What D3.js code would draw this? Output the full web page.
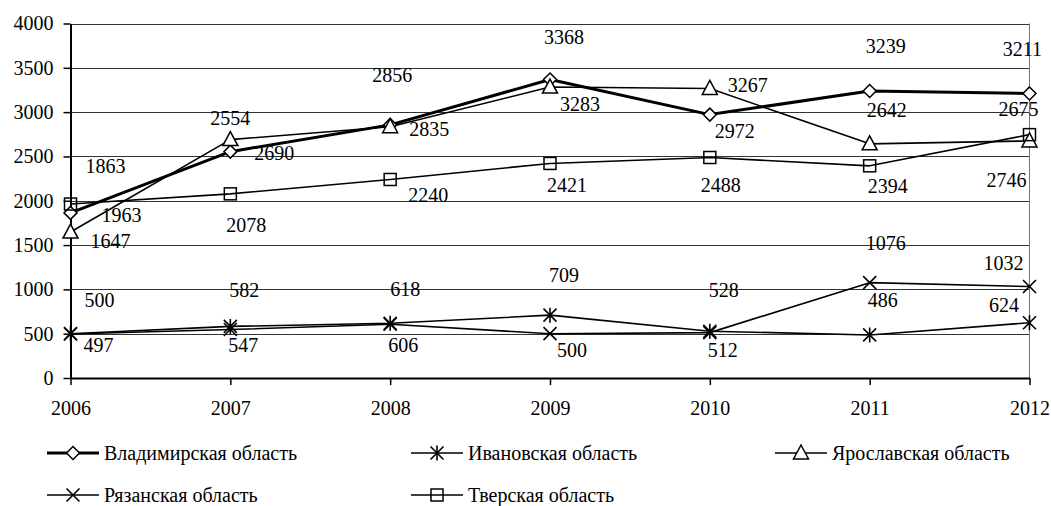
<!DOCTYPE html>
<html>
<head>
<meta charset="utf-8">
<script src="https://cdn.jsdelivr.net/npm/d3@7"></script>
<style>
  html, body { margin: 0; padding: 0; background: #fff; }
  svg { display: block; }
  text { font-family: "Liberation Serif", "Times New Roman", serif; fill: #000; }
</style>
</head>
<body>
<svg id="chart" width="1051" height="506"></svg>
<script>
// Years on the horizontal axis
const years = [2006, 2007, 2008, 2009, 2010, 2011, 2012];
// Values per region
const vladimir  = [1863, 2554, 2856, 3368, 2972, 3239, 3211];
const ivanovo   = [500, 582, 618, 709, 528, 486, 624];
const yaroslavl = [1647, 2690, 2835, 3283, 3267, 2642, 2675];
const ryazan    = [497, 547, 606, 500, 512, 1076, 1032];
const tver      = [1963, 2078, 2240, 2421, 2488, 2394, 2746];
// Region names
const names = ["Владимирская область", "Ивановская область", "Ярославская область",
               "Рязанская область", "Тверская область"];
// Value axis ticks
const yTicks = [0, 500, 1000, 1500, 2000, 2500, 3000, 3500, 4000];

// Series drawing styles and label placement (pixel offsets of each value label)
const styles = [
  { values: vladimir,  marker: "diamond",  width: 3,
    labelOffset: [[35,-47],[0,-34],[2,-50],[14,-43],[25,16],[16,-44.5],[-7,-44.5]] },
  { values: ivanovo,   marker: "asterisk", width: 1.6,
    labelOffset: [[29,-34],[14,-36],[15,-34],[14,-40.5],[14,-41.5],[13,-35],[-25.5,-17.5]] },
  { values: yaroslavl, marker: "triangle", width: 1.6,
    labelOffset: [[40,9],[44,13],[39,2],[30,17],[38,-3],[17,-34],[-11,-32]] },
  { values: ryazan,    marker: "cross",    width: 1.6,
    labelOffset: [[28,11],[13,15.5],[13,21],[22,16],[13,17],[16,-40],[-26,-24]] },
  { values: tver,      marker: "square",   width: 1.6,
    labelOffset: [[51,11],[16,31],[38,16],[17,22],[11,27],[18,20.5],[-23,45]] }
];

const svg = d3.select("#chart");
const x = d3.scaleLinear().domain([years[0], years[years.length - 1]]).range([70.5, 1029.5]);
const y = d3.scaleLinear().domain([0, 4000]).range([378, 23.5]);

// Gridlines
svg.append("g").selectAll("line").data(yTicks.filter(t => t > 0)).join("line")
  .attr("x1", x.range()[0]).attr("x2", x.range()[1])
  .attr("y1", d => Math.round(y(d)) + 0.5).attr("y2", d => Math.round(y(d)) + 0.5)
  .attr("stroke", "#333").attr("stroke-width", 1);

// Right frame edge
svg.append("line")
  .attr("x1", x.range()[1]).attr("x2", x.range()[1])
  .attr("y1", y(4000)).attr("y2", y(0))
  .attr("stroke", "#777").attr("stroke-width", 1);

// Value axis
const yAxis = d3.axisLeft(y).tickValues(yTicks).tickFormat(d3.format("d"))
  .tickSize(7).tickPadding(10).tickSizeOuter(0);
const gy = svg.append("g").attr("transform", `translate(${x.range()[0]},0)`).call(yAxis);
gy.attr("font-family", null).attr("font-size", null);
gy.select(".domain").attr("stroke", "#000").attr("stroke-width", 2);
gy.selectAll(".tick line").attr("stroke", "#000").attr("stroke-width", 1.5);
gy.selectAll(".tick text").attr("font-size", 20).attr("fill", "#000");

// Year axis
const xAxis = d3.axisBottom(x).tickValues(years).tickFormat(d3.format("d"))
  .tickSize(7).tickPadding(16).tickSizeOuter(0);
const gx = svg.append("g").attr("transform", `translate(0,${y(0)})`).call(xAxis);
gx.attr("font-family", null).attr("font-size", null);
gx.select(".domain").attr("stroke", "#000").attr("stroke-width", 2);
gx.selectAll(".tick line").attr("stroke", "#000").attr("stroke-width", 1.5);
gx.selectAll(".tick text").attr("font-size", 20).attr("fill", "#000");

// Marker shapes
function drawMarker(g, kind, cx, cy) {
  const s = 6.5;
  if (kind === "diamond") {
    g.append("path").attr("d", `M${cx},${cy - s}L${cx + s},${cy}L${cx},${cy + s}L${cx - s},${cy}Z`)
      .attr("fill", "#fff").attr("stroke", "#000").attr("stroke-width", 1.5);
  } else if (kind === "triangle") {
    g.append("path").attr("d", `M${cx},${cy - 8}L${cx + 7.5},${cy + 6}L${cx - 7.5},${cy + 6}Z`)
      .attr("fill", "#fff").attr("stroke", "#000").attr("stroke-width", 1.5);
  } else if (kind === "square") {
    g.append("rect").attr("x", cx - 6).attr("y", cy - 6).attr("width", 12).attr("height", 12)
      .attr("fill", "none").attr("stroke", "#000").attr("stroke-width", 1.5);
  } else if (kind === "cross" || kind === "asterisk") {
    const d = `M${cx - s},${cy - s}L${cx + s},${cy + s}M${cx - s},${cy + s}L${cx + s},${cy - s}` +
      (kind === "asterisk" ? `M${cx},${cy - s - 1}L${cx},${cy + s + 1}` : "");
    g.append("path").attr("d", d).attr("fill", "none").attr("stroke", "#000").attr("stroke-width", 1.6);
  }
}

const line = d3.line().x((d, i) => x(years[i])).y(d => y(d));
const plot = svg.append("g");

styles.forEach(st => {
  plot.append("path").datum(st.values).attr("d", line)
    .attr("fill", "none").attr("stroke", "#000").attr("stroke-width", st.width)
    .attr("stroke-linejoin", "round");
});
styles.forEach(st => {
  const g = plot.append("g");
  st.values.forEach((v, i) => drawMarker(g, st.marker, x(years[i]), y(v)));
});

// Value labels
styles.forEach(st => {
  plot.append("g").selectAll("text").data(st.values).join("text")
    .attr("x", (d, i) => x(years[i]) + st.labelOffset[i][0])
    .attr("y", (d, i) => y(d) + st.labelOffset[i][1])
    .attr("dy", "0.35em")
    .attr("text-anchor", "middle")
    .attr("font-size", 20)
    .text(d => d);
});

// Legend
const legendPos = [[47, 453], [411, 453], [775, 453], [47, 495], [411, 495]];
styles.forEach((st, i) => {
  const [lx, ly] = legendPos[i];
  const g = svg.append("g");
  g.append("line").attr("x1", lx).attr("x2", lx + 52).attr("y1", ly).attr("y2", ly)
    .attr("stroke", "#000").attr("stroke-width", st.width);
  drawMarker(g, st.marker, lx + 26, ly);
  g.append("text").attr("x", lx + 57).attr("y", ly).attr("dy", "0.35em")
    .attr("font-size", 20).text(names[i]);
});
</script>
</body>
</html>
